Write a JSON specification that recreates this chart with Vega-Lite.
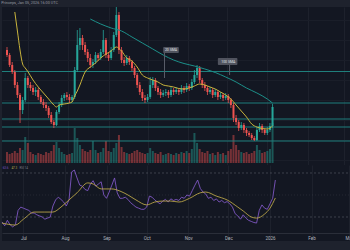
{
  "$schema": "https://vega.github.io/schema/vega-lite/v6.json",
  "background": "#1e222d",
  "padding": {"left": 0, "right": 0, "top": 0, "bottom": 9},
  "spacing": 0,
  "title": {"text": "Princeps, Jan 05, 2026 16:00 UTC", "anchor": "start", "fontSize": 3.8, "font": "Roboto", "fontWeight": "normal", "color": "#9598a1", "offset": 2.5, "dx": 1},
  "config": {
    "view": {"stroke": null, "fill": "#131722"},
    "axis": {"domain": false, "ticks": false, "labelFont": "Roboto", "gridColor": "#1d212c", "gridWidth": 1, "title": null}
  },
  "datasets": {
    "candles": [
      {"d":"2025-06-15","o":150,"h":153,"l":143,"c":145,"v":110,"r":25.5},
      {"d":"2025-06-17","o":145,"h":147,"l":133,"c":135,"v":90,"r":22},
      {"d":"2025-06-19","o":135,"h":138,"l":126,"c":128,"v":100,"r":27},
      {"d":"2025-06-21","o":128,"h":130,"l":112,"c":115,"v":120,"r":23},
      {"d":"2025-06-23","o":115,"h":118,"l":102,"c":105,"v":100,"r":21},
      {"d":"2025-06-25","o":105,"h":107,"l":77,"c":90,"v":150,"r":23},
      {"d":"2025-06-27","o":90,"h":103,"l":86,"c":100,"v":130,"r":36},
      {"d":"2025-06-29","o":100,"h":127,"l":98,"c":122,"v":260,"r":39},
      {"d":"2025-07-01","o":122,"h":124,"l":112,"c":115,"v":200,"r":38},
      {"d":"2025-07-03","o":115,"h":118,"l":109,"c":112,"v":110,"r":37},
      {"d":"2025-07-05","o":112,"h":115,"l":105,"c":108,"v":90,"r":36},
      {"d":"2025-07-07","o":108,"h":113,"l":104,"c":110,"v":80,"r":33.6},
      {"d":"2025-07-09","o":110,"h":112,"l":100,"c":103,"v":100,"r":33.6},
      {"d":"2025-07-11","o":103,"h":105,"l":96,"c":98,"v":90,"r":32},
      {"d":"2025-07-13","o":98,"h":101,"l":92,"c":95,"v":80,"r":31},
      {"d":"2025-07-15","o":95,"h":98,"l":89,"c":92,"v":110,"r":30},
      {"d":"2025-07-17","o":92,"h":94,"l":82,"c":85,"v":100,"r":28},
      {"d":"2025-07-19","o":85,"h":88,"l":76,"c":78,"v":120,"r":29},
      {"d":"2025-07-21","o":78,"h":80,"l":72,"c":75,"v":180,"r":30},
      {"d":"2025-07-23","o":75,"h":90,"l":74,"c":88,"v":210,"r":40},
      {"d":"2025-07-25","o":88,"h":98,"l":86,"c":95,"v":150,"r":45.5},
      {"d":"2025-07-27","o":95,"h":105,"l":93,"c":102,"v":110,"r":48},
      {"d":"2025-07-29","o":102,"h":107,"l":99,"c":105,"v":90,"r":46},
      {"d":"2025-07-31","o":105,"h":108,"l":100,"c":103,"v":80,"r":43.6},
      {"d":"2025-08-02","o":103,"h":106,"l":97,"c":100,"v":90,"r":40},
      {"d":"2025-08-04","o":100,"h":105,"l":98,"c":103,"v":100,"r":45.5},
      {"d":"2025-08-06","o":103,"h":133,"l":101,"c":130,"v":350,"r":71},
      {"d":"2025-08-08","o":130,"h":170,"l":128,"c":155,"v":250,"r":72.7},
      {"d":"2025-08-10","o":155,"h":172,"l":150,"c":162,"v":180,"r":65.5},
      {"d":"2025-08-12","o":162,"h":165,"l":150,"c":155,"v":140,"r":59},
      {"d":"2025-08-14","o":155,"h":158,"l":145,"c":148,"v":120,"r":58},
      {"d":"2025-08-16","o":148,"h":151,"l":138,"c":142,"v":110,"r":55},
      {"d":"2025-08-18","o":142,"h":146,"l":132,"c":135,"v":130,"r":54},
      {"d":"2025-08-20","o":135,"h":141,"l":132,"c":138,"v":220,"r":60},
      {"d":"2025-08-22","o":138,"h":148,"l":136,"c":145,"v":130,"r":63},
      {"d":"2025-08-24","o":145,"h":147,"l":139,"c":142,"v":100,"r":58},
      {"d":"2025-08-26","o":142,"h":151,"l":140,"c":148,"v":110,"r":60},
      {"d":"2025-08-28","o":148,"h":170,"l":146,"c":160,"v":150,"r":62},
      {"d":"2025-08-30","o":160,"h":162,"l":142,"c":145,"v":220,"r":50},
      {"d":"2025-09-01","o":145,"h":148,"l":139,"c":142,"v":120,"r":47},
      {"d":"2025-09-03","o":142,"h":153,"l":140,"c":150,"v":110,"r":52.7},
      {"d":"2025-09-05","o":150,"h":168,"l":148,"c":165,"v":150,"r":59},
      {"d":"2025-09-07","o":165,"h":193,"l":163,"c":185,"v":200,"r":65.5},
      {"d":"2025-09-09","o":185,"h":188,"l":146,"c":150,"v":280,"r":52},
      {"d":"2025-09-11","o":150,"h":153,"l":137,"c":140,"v":160,"r":47},
      {"d":"2025-09-13","o":140,"h":143,"l":134,"c":137,"v":110,"r":47},
      {"d":"2025-09-15","o":137,"h":145,"l":135,"c":142,"v":100,"r":48},
      {"d":"2025-09-17","o":142,"h":144,"l":135,"c":138,"v":90,"r":46},
      {"d":"2025-09-19","o":138,"h":140,"l":129,"c":132,"v":100,"r":43},
      {"d":"2025-09-21","o":132,"h":134,"l":122,"c":125,"v":120,"r":41},
      {"d":"2025-09-23","o":125,"h":127,"l":112,"c":115,"v":130,"r":39},
      {"d":"2025-09-25","o":115,"h":118,"l":105,"c":108,"v":110,"r":38},
      {"d":"2025-09-27","o":108,"h":111,"l":99,"c":102,"v":100,"r":37},
      {"d":"2025-09-29","o":102,"h":105,"l":97,"c":100,"v":90,"r":37},
      {"d":"2025-10-01","o":100,"h":106,"l":98,"c":103,"v":100,"r":39},
      {"d":"2025-10-03","o":103,"h":123,"l":101,"c":115,"v":150,"r":49},
      {"d":"2025-10-05","o":115,"h":123,"l":112,"c":120,"v":120,"r":48},
      {"d":"2025-10-07","o":120,"h":122,"l":109,"c":112,"v":100,"r":45.5},
      {"d":"2025-10-09","o":112,"h":114,"l":105,"c":108,"v":90,"r":43.6},
      {"d":"2025-10-11","o":108,"h":111,"l":102,"c":105,"v":110,"r":42},
      {"d":"2025-10-13","o":105,"h":110,"l":103,"c":107,"v":80,"r":44.5},
      {"d":"2025-10-15","o":107,"h":111,"l":104,"c":108,"v":90,"r":46},
      {"d":"2025-10-17","o":108,"h":110,"l":102,"c":105,"v":100,"r":43.6},
      {"d":"2025-10-19","o":105,"h":113,"l":103,"c":110,"v":90,"r":46.5},
      {"d":"2025-10-21","o":110,"h":112,"l":105,"c":108,"v":80,"r":45},
      {"d":"2025-10-23","o":108,"h":113,"l":106,"c":110,"v":100,"r":46},
      {"d":"2025-10-25","o":110,"h":112,"l":105,"c":108,"v":90,"r":45},
      {"d":"2025-10-27","o":108,"h":115,"l":106,"c":112,"v":110,"r":48},
      {"d":"2025-10-29","o":112,"h":114,"l":107,"c":110,"v":100,"r":47},
      {"d":"2025-10-31","o":110,"h":117,"l":108,"c":114,"v":120,"r":50},
      {"d":"2025-11-02","o":114,"h":116,"l":109,"c":112,"v":100,"r":49},
      {"d":"2025-11-04","o":112,"h":121,"l":110,"c":118,"v":140,"r":54},
      {"d":"2025-11-06","o":118,"h":130,"l":116,"c":125,"v":300,"r":59},
      {"d":"2025-11-08","o":125,"h":135,"l":122,"c":132,"v":200,"r":63.6},
      {"d":"2025-11-10","o":132,"h":134,"l":117,"c":120,"v":140,"r":56},
      {"d":"2025-11-12","o":120,"h":122,"l":112,"c":115,"v":110,"r":52.7},
      {"d":"2025-11-14","o":115,"h":118,"l":109,"c":112,"v":100,"r":51},
      {"d":"2025-11-16","o":112,"h":114,"l":105,"c":108,"v":120,"r":47},
      {"d":"2025-11-18","o":108,"h":113,"l":106,"c":110,"v":90,"r":48},
      {"d":"2025-11-20","o":110,"h":112,"l":102,"c":105,"v":100,"r":45},
      {"d":"2025-11-22","o":105,"h":111,"l":103,"c":108,"v":80,"r":46.5},
      {"d":"2025-11-24","o":108,"h":110,"l":100,"c":103,"v":110,"r":43.6},
      {"d":"2025-11-26","o":103,"h":108,"l":101,"c":105,"v":90,"r":45},
      {"d":"2025-11-28","o":105,"h":107,"l":99,"c":102,"v":100,"r":43},
      {"d":"2025-11-30","o":102,"h":107,"l":100,"c":104,"v":80,"r":44},
      {"d":"2025-12-02","o":104,"h":106,"l":97,"c":100,"v":120,"r":42},
      {"d":"2025-12-04","o":100,"h":102,"l":92,"c":95,"v":140,"r":39},
      {"d":"2025-12-06","o":95,"h":97,"l":78,"c":82,"v":280,"r":33},
      {"d":"2025-12-08","o":82,"h":85,"l":75,"c":78,"v":180,"r":31},
      {"d":"2025-12-10","o":78,"h":80,"l":69,"c":72,"v":130,"r":28},
      {"d":"2025-12-12","o":72,"h":78,"l":70,"c":75,"v":110,"r":32},
      {"d":"2025-12-14","o":75,"h":77,"l":67,"c":70,"v":100,"r":29},
      {"d":"2025-12-16","o":70,"h":72,"l":64,"c":67,"v":110,"r":27},
      {"d":"2025-12-18","o":67,"h":69,"l":63,"c":65,"v":90,"r":26},
      {"d":"2025-12-20","o":65,"h":67,"l":60,"c":62,"v":100,"r":25},
      {"d":"2025-12-22","o":62,"h":64,"l":59,"c":60,"v":120,"r":24.5},
      {"d":"2025-12-24","o":60,"h":73,"l":59,"c":70,"v":180,"r":36},
      {"d":"2025-12-26","o":70,"h":77,"l":68,"c":74,"v":130,"r":41},
      {"d":"2025-12-28","o":74,"h":76,"l":67,"c":70,"v":100,"r":38},
      {"d":"2025-12-30","o":70,"h":72,"l":65,"c":67,"v":110,"r":37},
      {"d":"2026-01-01","o":67,"h":73,"l":65,"c":70,"v":120,"r":42},
      {"d":"2026-01-03","o":70,"h":77,"l":68,"c":74,"v":140,"r":47},
      {"d":"2026-01-05","o":74,"h":96,"l":72,"c":93,"v":400,"r":63.6}
    ],
    "sma20": [
      {"d":"2025-06-21","p":188},{"d":"2025-06-23","p":169},{"d":"2025-06-25","p":150},{"d":"2025-06-27","p":136},
      {"d":"2025-06-29","p":132},{"d":"2025-07-01","p":128.5},{"d":"2025-07-05","p":120},{"d":"2025-07-09","p":113},
      {"d":"2025-07-13","p":107},{"d":"2025-07-17","p":101},{"d":"2025-07-21","p":95},{"d":"2025-07-23","p":93},
      {"d":"2025-07-25","p":95},{"d":"2025-07-29","p":96},{"d":"2025-08-02","p":97},{"d":"2025-08-04","p":98},
      {"d":"2025-08-06","p":104},{"d":"2025-08-08","p":109},{"d":"2025-08-10","p":115},{"d":"2025-08-14","p":128},
      {"d":"2025-08-18","p":133},{"d":"2025-08-22","p":137},{"d":"2025-08-26","p":142},{"d":"2025-08-30","p":146},
      {"d":"2025-09-03","p":149},{"d":"2025-09-07","p":153},{"d":"2025-09-11","p":149},{"d":"2025-09-15","p":142},
      {"d":"2025-09-19","p":139},{"d":"2025-09-23","p":133},{"d":"2025-09-27","p":125},{"d":"2025-10-01","p":122},
      {"d":"2025-10-05","p":120},{"d":"2025-10-09","p":118},{"d":"2025-10-13","p":115},{"d":"2025-10-17","p":114},
      {"d":"2025-10-21","p":113},{"d":"2025-10-25","p":111.5},{"d":"2025-10-29","p":111},{"d":"2025-11-02","p":112},
      {"d":"2025-11-06","p":114},{"d":"2025-11-10","p":116},{"d":"2025-11-14","p":115},{"d":"2025-11-18","p":113},
      {"d":"2025-11-22","p":111},{"d":"2025-11-26","p":108},{"d":"2025-11-30","p":105},{"d":"2025-12-04","p":101},
      {"d":"2025-12-08","p":95},{"d":"2025-12-12","p":89},{"d":"2025-12-16","p":83},{"d":"2025-12-20","p":76},
      {"d":"2025-12-24","p":73},{"d":"2025-12-28","p":71.5},{"d":"2026-01-01","p":71},{"d":"2026-01-05","p":74}
    ],
    "sma100": [
      {"d":"2025-08-18","p":181},{"d":"2025-08-26","p":176},{"d":"2025-09-03","p":172},{"d":"2025-09-11","p":169},
      {"d":"2025-09-19","p":163},{"d":"2025-09-27","p":157},{"d":"2025-10-05","p":151},{"d":"2025-10-13","p":145},
      {"d":"2025-10-21","p":140},{"d":"2025-10-29","p":136.5},{"d":"2025-11-06","p":134},{"d":"2025-11-14","p":131},
      {"d":"2025-11-22","p":127.5},{"d":"2025-11-30","p":123},{"d":"2025-12-08","p":118},{"d":"2025-12-16","p":112},
      {"d":"2025-12-24","p":107},{"d":"2026-01-01","p":101},{"d":"2026-01-05","p":97}
    ],
    "rsima": [
      {"d":"2025-06-15","r":24.5},{"d":"2025-06-25","r":22.7},{"d":"2025-07-01","r":28},{"d":"2025-07-09","r":34.5},
      {"d":"2025-07-17","r":34.5},{"d":"2025-07-23","r":34.5},{"d":"2025-07-29","r":39},{"d":"2025-08-04","r":45.5},
      {"d":"2025-08-10","r":52},{"d":"2025-08-18","r":61},{"d":"2025-08-22","r":60},{"d":"2025-08-28","r":55.5},
      {"d":"2025-09-05","r":55.5},{"d":"2025-09-11","r":53.6},{"d":"2025-09-17","r":50},{"d":"2025-09-23","r":45.5},
      {"d":"2025-10-01","r":41},{"d":"2025-10-07","r":43.6},{"d":"2025-10-13","r":44.5},{"d":"2025-10-19","r":44.5},
      {"d":"2025-10-25","r":43.6},{"d":"2025-11-02","r":47},{"d":"2025-11-10","r":52},{"d":"2025-11-14","r":52.7},
      {"d":"2025-11-22","r":49},{"d":"2025-11-30","r":45.5},{"d":"2025-12-08","r":39},{"d":"2025-12-12","r":35.5},
      {"d":"2025-12-18","r":30},{"d":"2025-12-22","r":29},{"d":"2025-12-28","r":32.7},{"d":"2026-01-01","r":38},
      {"d":"2026-01-05","r":47.3}
    ],
    "levels": [{"p":128.5},{"p":97},{"p":81},{"p":73},{"p":59}],
    "callouts": [
      {"d1":"2025-10-13","d2":"2025-10-25","dm":"2025-10-19","dp":"2025-10-14","top":153,"bot":147,"mid":150,"tip":122,"label":"20 SMA"},
      {"d1":"2025-11-24","d2":"2025-12-09","dm":"2025-12-02","dp":"2025-12-03","top":142,"bot":135,"mid":138.5,"tip":125,"label":"100 SMA"}
    ]
  },
  "vconcat": [
    {
      "width": 350,
      "height": 158,
      "layer": [
        {
          "data": {"name": "candles"},
          "mark": {"type": "bar", "size": 2, "opacity": 0.45},
          "encoding": {
            "x": {"field": "d", "type": "temporal", "title": null,
                  "scale": {"type": "utc", "domain": [{"year":2025,"month":6,"date":15,"utc":true},{"year":2026,"month":3,"date":3,"hours":5,"utc":true}]},
                  "axis": {"values": [{"year":2025,"month":7,"date":1,"utc":true},{"year":2025,"month":8,"date":1,"utc":true},{"year":2025,"month":9,"date":1,"utc":true},{"year":2025,"month":10,"date":1,"utc":true},{"year":2025,"month":11,"date":1,"utc":true},{"year":2025,"month":12,"date":1,"utc":true},{"year":2026,"month":1,"date":1,"utc":true},{"year":2026,"month":2,"date":1,"utc":true},{"year":2026,"month":3,"date":1,"utc":true}],
                           "labels": false, "grid": true, "domain": false, "ticks": false}},
            "y": {"field": "v", "type": "quantitative", "scale": {"domain": [-20, 1560]}, "axis": null},
            "color": {"condition": {"test": "datum.c >= datum.o", "value": "#26a69a"}, "value": "#ef5350"}
          }
        },
        {
          "layer": [
            {
              "data": {"name": "levels"},
              "mark": {"type": "rule", "color": "#1f7f7c", "strokeWidth": 1},
              "encoding": {
                "y": {"field": "p", "type": "quantitative", "title": null, "scale": {"domain": [35, 193], "nice": false, "zero": false},
                      "axis": {"grid": true, "labels": false, "tickCount": 8, "gridColor": "#1a1e29"}}
              }
            },
            {
              "data": {"name": "candles"},
              "mark": {"type": "rule", "strokeWidth": 0.8, "clip": true},
              "encoding": {
                "x": {"field": "d", "type": "temporal", "title": null, "scale": {"type": "utc", "domain": [{"year":2025,"month":6,"date":15,"utc":true},{"year":2026,"month":3,"date":3,"hours":5,"utc":true}]}},
                "y": {"field": "l", "type": "quantitative", "title": null, "scale": {"domain": [35, 193], "nice": false, "zero": false}},
                "y2": {"field": "h"},
                "color": {"condition": {"test": "datum.c >= datum.o", "value": "#26a69a"}, "value": "#ef5350"}
              }
            },
            {
              "data": {"name": "candles"},
              "mark": {"type": "bar", "size": 2, "clip": true},
              "encoding": {
                "x": {"field": "d", "type": "temporal", "title": null, "scale": {"type": "utc", "domain": [{"year":2025,"month":6,"date":15,"utc":true},{"year":2026,"month":3,"date":3,"hours":5,"utc":true}]}},
                "y": {"field": "o", "type": "quantitative", "title": null, "scale": {"domain": [35, 193], "nice": false, "zero": false}},
                "y2": {"field": "c"},
                "color": {"condition": {"test": "datum.c >= datum.o", "value": "#26a69a"}, "value": "#ef5350"}
              }
            },
            {
              "data": {"name": "sma20"},
              "mark": {"type": "line", "color": "#c9b43c", "strokeWidth": 1, "interpolate": "monotone", "clip": true},
              "encoding": {
                "x": {"field": "d", "type": "temporal", "title": null, "scale": {"type": "utc", "domain": [{"year":2025,"month":6,"date":15,"utc":true},{"year":2026,"month":3,"date":3,"hours":5,"utc":true}]}},
                "y": {"field": "p", "type": "quantitative", "title": null, "scale": {"domain": [35, 193], "nice": false, "zero": false}}
              }
            },
            {
              "data": {"name": "sma100"},
              "mark": {"type": "line", "color": "#1c8f89", "strokeWidth": 1, "interpolate": "monotone", "clip": true},
              "encoding": {
                "x": {"field": "d", "type": "temporal", "title": null, "scale": {"type": "utc", "domain": [{"year":2025,"month":6,"date":15,"utc":true},{"year":2026,"month":3,"date":3,"hours":5,"utc":true}]}},
                "y": {"field": "p", "type": "quantitative", "title": null, "scale": {"domain": [35, 193], "nice": false, "zero": false}}
              }
            },
            {
              "data": {"name": "callouts"},
              "mark": {"type": "rule", "color": "#5a5e6a", "strokeWidth": 1},
              "encoding": {
                "x": {"field": "dp", "type": "temporal", "title": null, "scale": {"type": "utc", "domain": [{"year":2025,"month":6,"date":15,"utc":true},{"year":2026,"month":3,"date":3,"hours":5,"utc":true}]}},
                "y": {"field": "bot", "type": "quantitative", "title": null, "scale": {"domain": [35, 193], "nice": false, "zero": false}},
                "y2": {"field": "tip"}
              }
            },
            {
              "data": {"name": "callouts"},
              "mark": {"type": "rect", "color": "#50535e", "cornerRadius": 1},
              "encoding": {
                "x": {"field": "d1", "type": "temporal", "title": null, "scale": {"type": "utc", "domain": [{"year":2025,"month":6,"date":15,"utc":true},{"year":2026,"month":3,"date":3,"hours":5,"utc":true}]}},
                "x2": {"field": "d2"},
                "y": {"field": "top", "type": "quantitative", "title": null, "scale": {"domain": [35, 193], "nice": false, "zero": false}},
                "y2": {"field": "bot"}
              }
            },
            {
              "data": {"name": "callouts"},
              "mark": {"type": "text", "color": "#e0e3eb", "fontSize": 3.5, "font": "Roboto", "align": "center", "baseline": "middle"},
              "encoding": {
                "x": {"field": "dm", "type": "temporal", "title": null, "scale": {"type": "utc", "domain": [{"year":2025,"month":6,"date":15,"utc":true},{"year":2026,"month":3,"date":3,"hours":5,"utc":true}]}},
                "y": {"field": "mid", "type": "quantitative", "title": null, "scale": {"domain": [35, 193], "nice": false, "zero": false}},
                "text": {"field": "label"}
              }
            },
            {
              "mark": {"type": "text", "color": "#26a69a", "fontSize": 3.6, "font": "Roboto", "align": "left", "baseline": "middle"},
              "encoding": {
                "x": {"datum": {"year":2025,"month":6,"date":16,"utc":true}, "type": "temporal", "title": null, "scale": {"type": "utc", "domain": [{"year":2025,"month":6,"date":15,"utc":true},{"year":2026,"month":3,"date":3,"hours":5,"utc":true}]}},
                "y": {"datum": 190, "type": "quantitative", "title": null, "scale": {"domain": [35, 193], "nice": false, "zero": false}},
                "text": {"value": "1D  O1.2304 H1.3450 L1.2190 C1.3410 +0.1100 (+8.94%)"}
              }
            },
            {
              "mark": {"type": "text", "color": "#a5c23c", "fontSize": 3.6, "font": "Roboto", "align": "left", "baseline": "middle"},
              "encoding": {
                "x": {"datum": {"year":2025,"month":6,"date":15,"utc":true}, "type": "temporal", "title": null, "scale": {"type": "utc", "domain": [{"year":2025,"month":6,"date":15,"utc":true},{"year":2026,"month":3,"date":3,"hours":5,"utc":true}]}},
                "y": {"datum": 181, "type": "quantitative", "title": null, "scale": {"domain": [35, 193], "nice": false, "zero": false}},
                "text": {"value": "SMA"}
              }
            }
          ]
        }
      ],
      "resolve": {"scale": {"y": "independent"}}
    },
    {
      "width": 350,
      "height": 76,
      "layer": [
        {
          "mark": {"type": "rect", "color": "#7e57c2", "opacity": 0.13},
          "encoding": {
            "x": {"datum": {"year":2025,"month":6,"date":15,"utc":true}, "type": "temporal", "title": null,
                  "scale": {"type": "utc", "domain": [{"year":2025,"month":6,"date":15,"utc":true},{"year":2026,"month":3,"date":3,"hours":5,"utc":true}]},
                  "axis": {"values": [{"year":2025,"month":7,"date":1,"utc":true},{"year":2025,"month":8,"date":1,"utc":true},{"year":2025,"month":9,"date":1,"utc":true},{"year":2025,"month":10,"date":1,"utc":true},{"year":2025,"month":11,"date":1,"utc":true},{"year":2025,"month":12,"date":1,"utc":true},{"year":2026,"month":1,"date":1,"utc":true},{"year":2026,"month":2,"date":1,"utc":true},{"year":2026,"month":3,"date":1,"utc":true}],
                           "labelExpr": "utcmonth(datum.value) == 0 ? utcFormat(datum.value, '%Y') : utcFormat(datum.value, '%b')",
                           "grid": true, "ticks": false, "offset": -8, "domain": true, "domainColor": "#2a2e39", "labelFontSize": 4.5, "labelColor": "#b2b5be", "labelPadding": 2, "labelFlush": false, "labelOverlap": false}},
            "x2": {"datum": {"year":2026,"month":3,"date":3,"hours":5,"utc":true}},
            "y": {"datum": 70, "type": "quantitative", "title": null, "scale": {"domain": [8.18, 77.27], "nice": false, "zero": false}, "axis": null},
            "y2": {"datum": 30}
          }
        },
        {
          "data": {"values": [{"k": 70}, {"k": 30}]},
          "mark": {"type": "rule", "color": "#787b86", "strokeDash": [2, 2], "strokeWidth": 0.7, "opacity": 0.6},
          "encoding": {
            "y": {"field": "k", "type": "quantitative", "title": null, "scale": {"domain": [8.18, 77.27], "nice": false, "zero": false}, "axis": null}
          }
        },
        {
          "data": {"values": [{"k": 50}]},
          "mark": {"type": "rule", "color": "#787b86", "strokeDash": [1, 2], "strokeWidth": 0.6, "opacity": 0.3},
          "encoding": {
            "y": {"field": "k", "type": "quantitative", "title": null, "scale": {"domain": [8.18, 77.27], "nice": false, "zero": false}, "axis": null}
          }
        },
        {
          "data": {"name": "candles"},
          "mark": {"type": "line", "color": "#7e57c2", "strokeWidth": 0.9},
          "encoding": {
            "x": {"field": "d", "type": "temporal", "title": null, "scale": {"type": "utc", "domain": [{"year":2025,"month":6,"date":15,"utc":true},{"year":2026,"month":3,"date":3,"hours":5,"utc":true}]}},
            "y": {"field": "r", "type": "quantitative", "title": null, "scale": {"domain": [8.18, 77.27], "nice": false, "zero": false}, "axis": null}
          }
        },
        {
          "data": {"name": "rsima"},
          "mark": {"type": "line", "color": "#b9a448", "strokeWidth": 0.9, "interpolate": "monotone"},
          "encoding": {
            "x": {"field": "d", "type": "temporal", "title": null, "scale": {"type": "utc", "domain": [{"year":2025,"month":6,"date":15,"utc":true},{"year":2026,"month":3,"date":3,"hours":5,"utc":true}]}},
            "y": {"field": "r", "type": "quantitative", "title": null, "scale": {"domain": [8.18, 77.27], "nice": false, "zero": false}, "axis": null}
          }
        },
        {
          "data": {"values": [
            {"d": "2025-06-15T12:00:00Z", "t": "63.6", "g": "a"},
            {"d": "2025-06-22", "t": "47.3", "g": "b"},
            {"d": "2025-06-28", "t": "RSI 14", "g": "c"}
          ]},
          "mark": {"type": "text", "fontSize": 3, "font": "Roboto", "align": "left", "baseline": "middle"},
          "encoding": {
            "x": {"field": "d", "type": "temporal", "title": null, "scale": {"type": "utc", "domain": [{"year":2025,"month":6,"date":15,"utc":true},{"year":2026,"month":3,"date":3,"hours":5,"utc":true}]}},
            "y": {"datum": 74.5, "type": "quantitative", "title": null, "scale": {"domain": [8.18, 77.27], "nice": false, "zero": false}, "axis": null},
            "text": {"field": "t"},
            "color": {"field": "g", "type": "nominal", "scale": {"domain": ["a", "b", "c"], "range": ["#7e57c2", "#b9a448", "#787b86"]}, "legend": null}
          }
        }
      ]
    }
  ]
}
